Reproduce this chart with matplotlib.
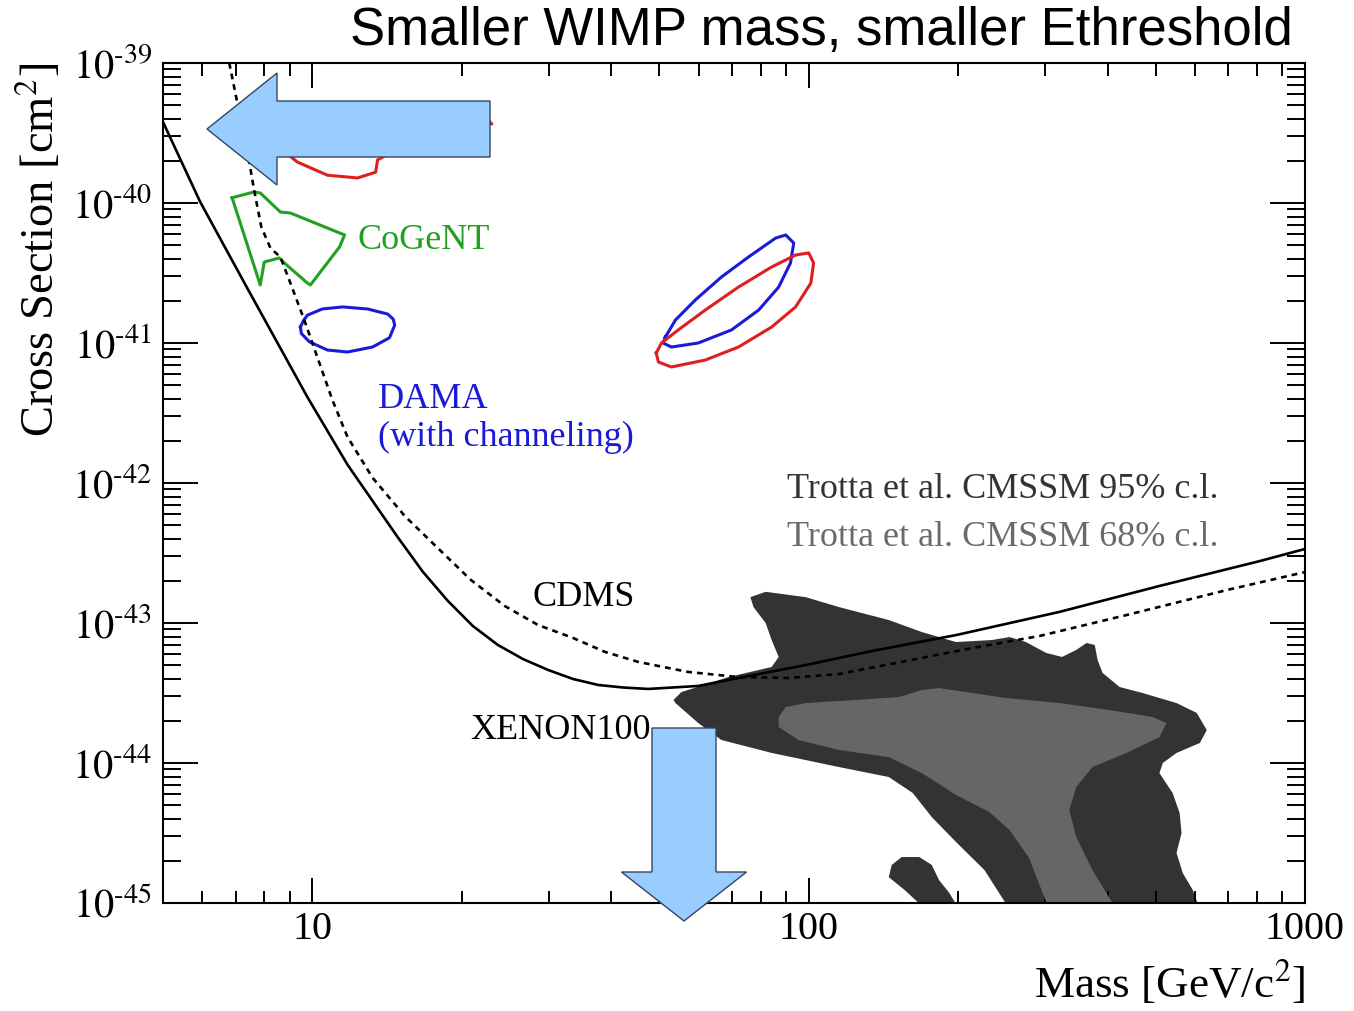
import numpy as np
import matplotlib
matplotlib.use('Agg')
import matplotlib.pyplot as plt
from matplotlib.patches import FancyArrow
from matplotlib.ticker import LogLocator, FixedLocator, FuncFormatter, NullFormatter
from matplotlib.transforms import Affine2D

plt.rcParams['font.family'] = 'Liberation Serif'
plt.rcParams['mathtext.fontset'] = 'stix'

# XENON100 upper limit (solid line)
xenon_mass = [5.0, 5.94, 7.39, 9.77, 11.77, 14.85, 16.68, 18.74, 21.05, 23.64, 26.56, 29.84,
              33.52, 37.65, 42.3, 47.5, 59.9, 72.2, 98.6, 134.1, 198.2, 320.0, 509.4, 811.0, 1000.0]
xenon_xs = [3.79e-40, 1.02e-40, 2.47e-41, 4.11e-42, 1.35e-42, 4.11e-43, 2.33e-43, 1.44e-43,
            9.52e-44, 6.97e-44, 5.53e-44, 4.62e-44, 3.98e-44, 3.61e-44, 3.46e-44, 3.38e-44,
            3.55e-44, 4.05e-44, 5.01e-44, 6.31e-44, 8.2e-44, 1.2e-43, 1.84e-43, 2.77e-43, 3.38e-43]

# CDMS upper limit (dashed line)
cdms_mass = [6.80, 7.06, 7.39, 7.63, 7.89, 8.23, 8.62, 9.03, 9.63, 10.23, 10.97, 11.77, 13.22,
             15.35, 17.89, 20.86, 24.43, 28.48, 33.5, 38.9, 45.37, 57.2, 72.2, 91.1, 115.0,
             157.0, 213.5, 291.5, 437.0, 696.0, 1000.0]
cdms_xs = [1.0e-39, 5.18e-40, 2.39e-40, 1.24e-40, 6.74e-41, 4.77e-41, 4.11e-41, 2.68e-41,
           1.46e-41, 7.94e-42, 3.92e-42, 2.13e-42, 1.09e-42, 5.81e-43, 3.43e-43, 2.03e-43,
           1.32e-43, 9.68e-44, 7.82e-44, 6.21e-44, 5.27e-44, 4.47e-44, 4.11e-44, 4.05e-44,
           4.32e-44, 5.35e-44, 6.62e-44, 8.07e-44, 1.14e-43, 1.72e-43, 2.31e-43]

# CoGeNT region
cogent_mass = [6.89, 7.63, 7.85, 8.62, 9.03, 11.61, 11.34, 9.91, 9.77, 8.78, 8.58, 8.00, 7.85, 6.89]
cogent_xs = [1.09e-40, 1.20e-40, 1.18e-40, 8.62e-41, 8.48e-41, 5.91e-41, 4.85e-41, 2.60e-41,
             2.68e-41, 3.73e-41, 4.05e-41, 3.79e-41, 2.60e-41, 1.09e-40]

# DAMA regions (with channeling)
dama_lo_mass = [9.46, 9.60, 9.77, 10.47, 11.50, 12.92, 14.18, 14.55, 14.65, 14.30, 13.22, 11.77,
                10.72, 9.86, 9.50, 9.46]
dama_lo_xs = [1.30e-41, 1.45e-41, 1.58e-41, 1.75e-41, 1.81e-41, 1.75e-41, 1.61e-41, 1.48e-41,
              1.34e-41, 1.09e-41, 9.36e-42, 8.62e-42, 8.91e-42, 1.02e-41, 1.17e-41, 1.30e-41]
dama_hi_mass = [51.4, 50.9, 52.9, 59.9, 69.9, 79.3, 87.0, 91.9, 93.3, 89.9, 85.8, 75.6, 66.7, 59.1, 53.9, 51.4]
dama_hi_xs = [1.10e-41, 1.0e-41, 9.36e-42, 1.0e-41, 1.24e-41, 1.72e-41, 2.51e-41, 3.73e-41,
              5.18e-41, 5.91e-41, 5.62e-41, 4.11e-41, 2.96e-41, 2.03e-41, 1.46e-41, 1.10e-41]

# DAMA regions (red)
dama_red_lo_mass = [8.70, 9.33, 10.72, 12.33, 13.41, 13.53, 18.74, 22.99, 21.54, 14.85, 10.23, 8.70, 8.70]
dama_red_lo_xs = [2.39e-40, 1.96e-40, 1.58e-40, 1.51e-40, 1.66e-40, 2.03e-40, 3.92e-40, 3.67e-40,
                  4.62e-40, 4.77e-40, 4.62e-40, 3.32e-40, 2.39e-40]
dama_red_hi_mass = [49.3, 49.8, 52.9, 61.9, 72.2, 84.2, 94.1, 101.0, 102.3, 100.0, 94.1, 84.2,
                    72.2, 61.9, 54.6, 50.5, 49.3]
dama_red_hi_xs = [8.48e-42, 7.31e-42, 6.74e-42, 7.56e-42, 9.36e-42, 1.30e-41, 1.81e-41, 2.68e-41,
                  3.73e-41, 4.40e-41, 4.25e-41, 3.49e-41, 2.51e-41, 1.72e-41, 1.24e-41, 1.0e-41, 8.48e-42]

# Trotta et al. CMSSM 95% region
cmssm95_mass = [53.4, 55.4, 68.9, 84.2, 87.0, 84.2, 81.9, 77.4, 76.3, 81.9, 98.6, 115.0, 145.0,
                169.0, 198.0, 234.0, 254.0, 274.0, 301.0, 324.0, 346.0, 363.0, 377.0, 382.0,
                391.0, 423.0, 471.0, 551.0, 605.0, 634.0, 614.0, 551.0, 517.0, 509.0, 541.0,
                559.0, 564.0, 551.0, 567.0, 594.0, 614.0, 254.0, 226.0, 198.0, 177.0, 162.0,
                145.0, 115.0, 84.2, 66.7, 59.9, 53.9]
cmssm95_xs = [2.82e-44, 3.21e-44, 4.11e-44, 4.85e-44, 5.72e-44, 7.56e-44, 1.0e-43, 1.30e-43,
              1.53e-43, 1.67e-43, 1.53e-43, 1.30e-43, 1.05e-43, 8.62e-44, 7.31e-44, 7.56e-44,
              7.94e-44, 7.31e-44, 6.11e-44, 5.72e-44, 6.42e-44, 7.20e-44, 6.97e-44, 5.44e-44,
              4.40e-44, 3.49e-44, 3.16e-44, 2.68e-44, 2.28e-44, 1.72e-44, 1.39e-44, 1.18e-44,
              1.0e-44, 8.48e-45, 6.11e-45, 4.40e-45, 3.16e-45, 2.28e-45, 1.64e-45, 1.24e-45,
              0.9e-45, 0.9e-45, 1.72e-45, 2.73e-45, 4.11e-45, 6.11e-45, 7.94e-45, 9.36e-45,
              1.18e-44, 1.46e-44, 1.93e-44, 2.68e-44]
cmssm95_islet_mass = [145.0, 147.0, 154.0, 167.0, 177.0, 183.0, 192.0, 201.0, 172.0, 156.0]
cmssm95_islet_xs = [1.53e-45, 1.87e-45, 2.13e-45, 2.13e-45, 1.87e-45, 1.46e-45, 1.18e-45,
                    0.9e-45, 0.9e-45, 1.24e-45]

# Trotta et al. CMSSM 68% region
cmssm68_mass = [87.0, 89.9, 98.6, 124.0, 152.0, 169.0, 183.0, 214.0, 250.0, 320.0, 404.0, 493.0,
                526.0, 509.0, 437.0, 373.0, 346.0, 335.0, 346.0, 373.0, 417.0, 305.0, 278.0,
                254.0, 231.0, 198.0, 169.0, 145.0, 115.0, 95.4, 87.0]
cmssm68_xs = [2.13e-44, 2.51e-44, 2.68e-44, 2.82e-44, 2.96e-44, 3.32e-44, 3.43e-44, 3.16e-44,
              2.91e-44, 2.68e-44, 2.39e-44, 2.13e-44, 1.93e-44, 1.53e-44, 1.18e-44, 9.36e-45,
              6.74e-45, 4.62e-45, 2.96e-45, 1.72e-45, 0.9e-45, 0.9e-45, 2.10e-45, 3.32e-45,
              4.47e-45, 5.91e-45, 8.48e-45, 1.10e-44, 1.24e-44, 1.46e-44, 1.81e-44]

mass_ticks = [10, 100, 1000]
xs_ticks = [1e-45, 1e-44, 1e-43, 1e-42, 1e-41, 1e-40, 1e-39]

W, H = 1354, 1011
fig = plt.figure(figsize=(W / 100, H / 100), dpi=100)
ax = fig.add_axes([163 / W, 1 - 903 / H, (1305 - 163) / W, (903 - 63) / H])
ax.set_xscale('log')
ax.set_yscale('log')
ax.set_xlim(5, 1000)
ax.set_ylim(1e-45, 1e-39)

# SUSY regions
ax.fill(cmssm95_mass, cmssm95_xs, color='#333333', lw=0, zorder=1)
ax.fill(cmssm95_islet_mass, cmssm95_islet_xs, color='#333333', lw=0, zorder=1)
ax.fill(cmssm68_mass, cmssm68_xs, color='#666666', lw=0, zorder=2)

# signal regions
kw = dict(lw=2.2, solid_joinstyle='round', zorder=3)
ax.plot(cogent_mass, cogent_xs, color='#22a022', **kw)
ax.plot(dama_lo_mass, dama_lo_xs, color='#1a1ad8', **kw)
ax.plot(dama_hi_mass, dama_hi_xs, color='#1a1ad8', **kw)
ax.plot(dama_red_lo_mass, dama_red_lo_xs, color='#dd1f1f', **kw)
ax.plot(dama_red_hi_mass, dama_red_hi_xs, color='#dd1f1f', **kw)

# exclusion limits
ax.plot(xenon_mass, xenon_xs, color='black', lw=1.9, solid_joinstyle='round', zorder=4)
ax.plot(cdms_mass, cdms_xs, color='black', lw=1.9, dashes=(2.2, 1.9), zorder=4)


def pow10_label(v, pos):
    # ROOT-style exponent with a short hyphen
    return r'$10^{\text{-}%d}$' % abs(round(np.log10(v)))


# axes styling
for s in ax.spines.values():
    s.set_linewidth(1.5)
ax.xaxis.set_major_locator(FixedLocator(mass_ticks))
ax.xaxis.set_minor_locator(LogLocator(base=10, subs=np.arange(2, 10)))
ax.yaxis.set_major_locator(FixedLocator(xs_ticks))
ax.yaxis.set_minor_locator(LogLocator(base=10, subs=np.arange(2, 10), numticks=20))
ax.xaxis.set_major_formatter(FuncFormatter(lambda v, p: '%g' % v))
ax.xaxis.set_minor_formatter(NullFormatter())
ax.yaxis.set_major_formatter(FuncFormatter(pow10_label))
ax.yaxis.set_minor_formatter(NullFormatter())
ax.tick_params(which='both', direction='in', top=True, right=True, width=1.4, labelsize=29)
ax.tick_params(axis='x', which='major', length=18, pad=6)
ax.tick_params(axis='x', which='minor', length=9)
ax.tick_params(axis='y', which='major', length=25, pad=8)
ax.tick_params(axis='y', which='minor', length=13)

ax.set_xlabel(r'Mass [GeV/c$^2$]', fontsize=32.5, loc='right')
ax.xaxis.set_label_coords(1.0, -0.066)
ax.set_ylabel(r'Cross Section [cm$^2$]', fontsize=33.5, loc='top')
ax.yaxis.set_label_coords(-0.087, 1.0)

# region labels
lab = dict(fontsize=26, va='center')
ax.text(12.33, 5.44e-41, 'CoGeNT', color='#22a022', **lab)
ax.text(13.53, 3.92e-42, 'DAMA', color='#1a1ad8', **lab)
ax.text(13.53, 2.13e-42, '(with channeling)', color='#1a1ad8', **lab)
ax.text(27.8, 1.51e-43, 'CDMS', color='black', **lab)
ax.text(20.76, 1.72e-44, 'XENON100', color='black', **lab)
ax.text(90.3, 9.06e-43, 'Trotta et al. CMSSM 95% c.l.', color='#333333', **lab)
ax.text(90.3, 4.11e-43, 'Trotta et al. CMSSM 68% c.l.', color='#6a6a6a', **lab)

fig.text(1293 / W, 1 - 31 / H, 'Smaller WIMP mass, smaller Ethreshold', fontsize=38,
         family='Liberation Sans', ha='right', va='center')

# overlay arrows, placed in pixel units from the top-left corner
px = Affine2D().scale(1 / W, -1 / H).translate(0, 1) + fig.transFigure
arrow_kw = dict(length_includes_head=True, fc='#99ccff', ec='#34465e', lw=1.0,
                transform=px, zorder=20)
fig.add_artist(FancyArrow(490, 129, -283, 0, width=56, head_width=112, head_length=70, **arrow_kw))
fig.add_artist(FancyArrow(684, 728, 0, 193, width=64, head_width=125, head_length=49, **arrow_kw))

fig.savefig('out.png', dpi=100)
